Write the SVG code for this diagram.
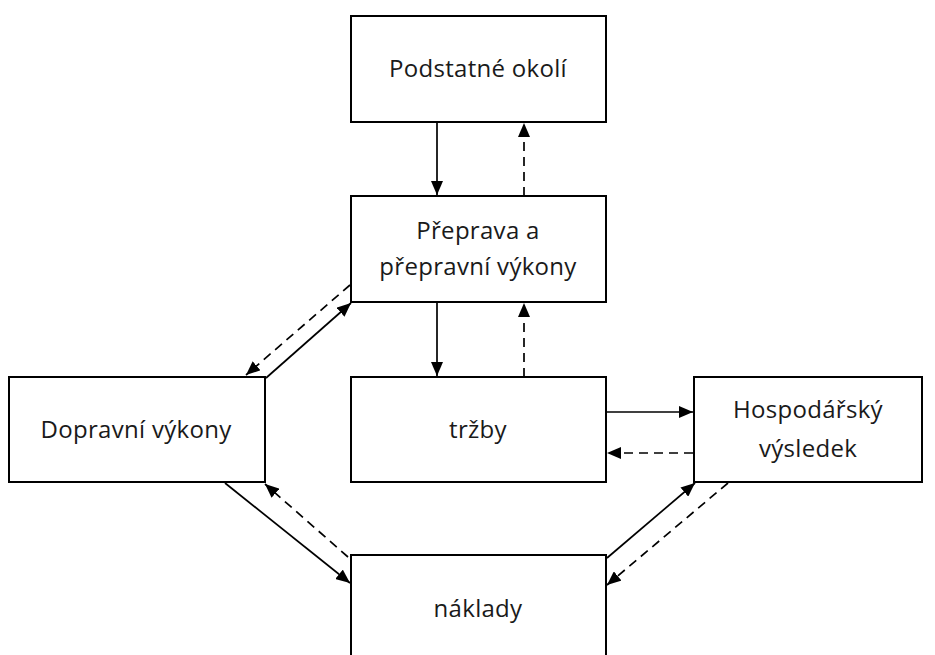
<svg xmlns="http://www.w3.org/2000/svg" width="935" height="655" viewBox="0 0 935 655">
<defs>
<marker id="ah" viewBox="0 0 14 12" refX="14" refY="6" markerWidth="14" markerHeight="12" markerUnits="userSpaceOnUse" orient="auto">
<path d="M0,0 L14,6 L0,12 Z" fill="#000"/>
</marker>
<style>
.box{fill:#fff;stroke:#000;stroke-width:2}
.t{font-family:"Open Sans","Liberation Sans",sans-serif;font-size:24px;letter-spacing:0.3px;fill:#1a1a1a;text-anchor:middle}
.s{stroke:#000;stroke-width:1.7;fill:none;marker-end:url(#ah)}
.d{stroke:#000;stroke-width:1.7;fill:none;stroke-dasharray:9,6;marker-end:url(#ah)}
</style>
</defs>
<rect width="935" height="655" fill="#fff"/>
<g id="n1"><rect class="box" x="351" y="16" width="255" height="106"/><text class="t" x="478" y="77">Podstatné okolí</text></g>
<g id="n2"><rect class="box" x="351" y="196" width="255" height="106"/><text class="t" x="478" y="239">Přeprava a</text><text class="t" x="478" y="275">přepravní výkony</text></g>
<g id="n3"><rect class="box" x="9" y="377" width="256" height="105"/><text class="t" x="136" y="438">Dopravní výkony</text></g>
<g id="n4"><rect class="box" x="351" y="377" width="255" height="105"/><text class="t" x="478" y="438">tržby</text></g>
<g id="n5"><rect class="box" x="694" y="377" width="228" height="105"/><text class="t" x="808" y="418">Hospodářský</text><text class="t" x="808" y="457">výsledek</text></g>
<g id="n6"><rect class="box" x="351" y="555" width="255" height="110"/><text class="t" x="478" y="617">náklady</text></g>
<g id="edges">
<line class="s" x1="437" y1="122" x2="437" y2="195"/>
<line class="d" x1="524" y1="196" x2="524" y2="123"/>
<line class="s" x1="437" y1="302" x2="437" y2="376"/>
<line class="d" x1="524" y1="377" x2="524" y2="303"/>
<line class="s" x1="266" y1="378" x2="351" y2="303"/>
<line class="d" x1="350" y1="285" x2="246" y2="375"/>
<line class="s" x1="606" y1="412" x2="693" y2="412"/>
<line class="d" x1="693" y1="453" x2="607" y2="453"/>
<line class="s" x1="225" y1="483" x2="350" y2="583"/>
<line class="d" x1="348" y1="557" x2="265" y2="484"/>
<line class="s" x1="607" y1="558" x2="695" y2="483"/>
<line class="d" x1="728" y1="483" x2="607" y2="585"/>
</g>
</svg>
